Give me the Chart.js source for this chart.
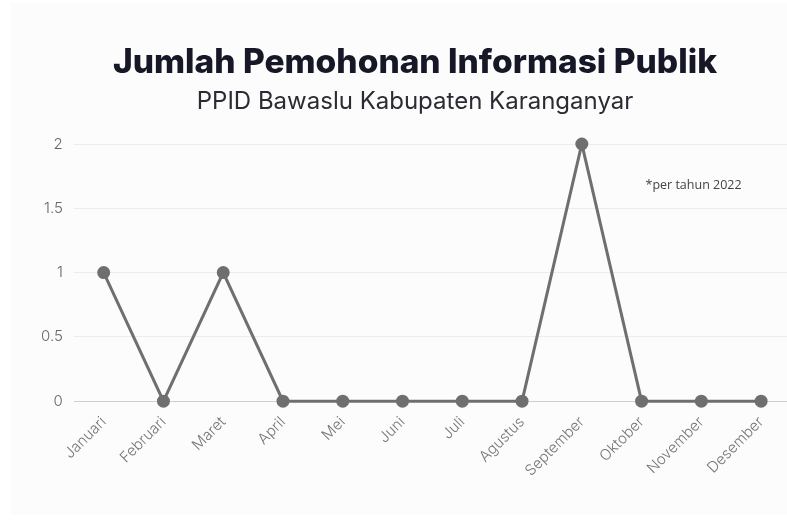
<!DOCTYPE html>
<html>
<head>
<meta charset="utf-8">
<script src="https://cdn.jsdelivr.net/npm/chart.js@4.4.0/dist/chart.umd.min.js"></script>
<style>
  html, body { margin: 0; padding: 0; background: #ffffff; overflow: hidden; }
  #wrap { width: 800px; height: 524px; position: relative; }
</style>
</head>
<body>
<div id="wrap"><canvas id="finalChart"></canvas></div>
<script>
var months = ['Januari','Februari','Maret','April','Mei','Juni','Juli','Agustus','September','Oktober','November','Desember'];
var requests = [1, 0, 1, 0, 0, 0, 0, 0, 2, 0, 0, 0];
var yTicks = [0, 0.5, 1, 1.5, 2];
var noteText = '*per tahun 2022';

var ctx = document.getElementById('finalChart');

// light card behind the chart, plus the small note on the right
const cardAndNote = {
  id: 'cardAndNote',
  beforeDraw(chart) {
    const c = chart.ctx;
    c.save();
    c.fillStyle = '#fcfcfd';
    c.fillRect(10, 3, chart.width - 10, chart.height - 12);
    c.restore();
  },
  afterDatasetsDraw(chart) {
    const c = chart.ctx;
    const xs = chart.scales.x, ys = chart.scales.y;
    const x = xs.getPixelForValue(9) + (xs.getPixelForValue(10) - xs.getPixelForValue(9)) * 0.87;
    const y = ys.getPixelForValue(1.68);
    c.save();
    c.font = '12.5px "Open Sans"';
    c.fillStyle = '#444444';
    c.textAlign = 'center';
    c.textBaseline = 'middle';
    c.fillText(noteText, x, y);
    c.restore();
  }
};

var requestChart = new Chart(ctx, {
  type: 'line',
  data: {
    labels: months,
    datasets: [{
      label: 'Pemohon',
      data: requests,
      borderColor: '#6f6f6f',
      backgroundColor: '#6f6f6f',
      borderWidth: 3,
      pointRadius: 5,
      pointHoverRadius: 6,
      tension: 0,
      clip: false
    }]
  },
  options: {
    responsive: true,
    maintainAspectRatio: false,
    animation: false,
    layout: {
      padding: { left: 30, right: 0, top: 43, bottom: 40 }
    },
    scales: {
      x: {
        offset: true,
        grid: { display: false },
        border: { display: false },
        ticks: {
          color: '#777777',
          maxRotation: 45,
          minRotation: 45,
          padding: 4,
          font: { family: 'Inter', size: 15, weight: 300 }
        }
      },
      y: {
        min: 0,
        max: 2,
        afterBuildTicks: function(axis) {
          axis.ticks = yTicks.map(function(v) { return { value: v }; });
        },
        border: { display: false },
        grid: {
          color: function(c) { return c.tick && c.tick.value === 0 ? '#cfcfcf' : '#ececec'; },
          tickLength: 0
        },
        ticks: {
          color: '#666666',
          padding: 11,
          callback: function(v) { return String(v); },
          font: { family: 'Inter', size: 15, weight: 300 }
        }
      }
    },
    plugins: {
      legend: { display: false },
      tooltip: { enabled: false },
      title: {
        display: true,
        text: 'Jumlah Pemohonan Informasi Publik',
        color: '#161827',
        padding: { top: 0, bottom: 4 },
        font: { family: 'Inter', size: 33.5, weight: 800 }
      },
      subtitle: {
        display: true,
        text: 'PPID Bawaslu Kabupaten Karanganyar',
        color: '#2b2b33',
        padding: { top: 0, bottom: 28 },
        font: { family: 'Inter', size: 24, weight: 400 }
      }
    }
  },
  plugins: [cardAndNote]
});
</script>
</body>
</html>
